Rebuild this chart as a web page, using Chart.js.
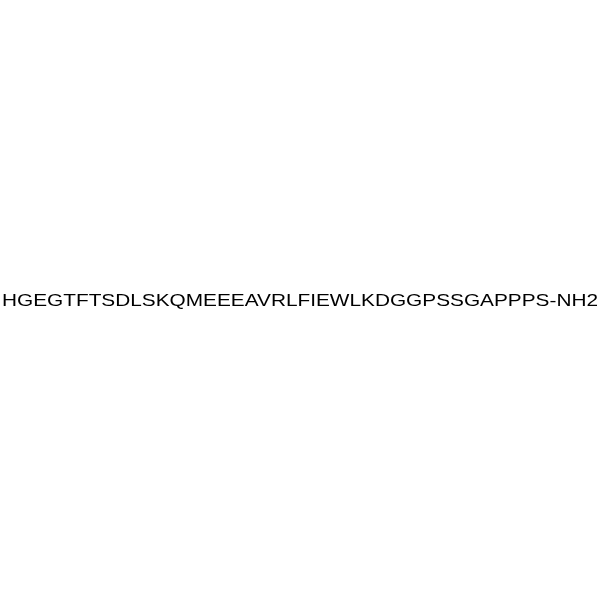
<!DOCTYPE html>
<html>
<head>
<meta charset="utf-8">
<script src="https://cdn.jsdelivr.net/npm/chart.js@4"></script>
<style>
html,body{margin:0;padding:0;background:#fff;}
#wrap{width:600px;height:600px;}
</style>
</head>
<body>
<div id="wrap"><canvas id="c" width="600" height="600"></canvas></div>
<script>
const sequenceLabels = ['HGEGTFTSDLSKQMEEEAVRLFIEWLKDGGPSSGAPPPS-NH2'];
const labelX = [0.5];
const labelY = [0.5];

const textPlugin = {
  id: 'seqText',
  afterDraw(chart) {
    const ctx = chart.ctx;
    const xs = chart.scales.x, ys = chart.scales.y;
    ctx.save();
    ctx.fillStyle = '#000';
    ctx.font = '17px "Liberation Sans", Arial, sans-serif';
    ctx.textAlign = 'center';
    ctx.textBaseline = 'alphabetic';
    sequenceLabels.forEach((t, i) => {
      const w = ctx.measureText(t).width;
      const sx = 596 / w;
      const px = xs.getPixelForValue(labelX[i]);
      const py = ys.getPixelForValue(labelY[i]) + 5.5;
      ctx.save();
      ctx.translate(px, py);
      ctx.scale(sx, 1);
      ctx.fillText(t, 0, 0);
      ctx.restore();
    });
    ctx.restore();
  }
};

new Chart(document.getElementById('c'), {
  type: 'scatter',
  data: { datasets: [{ data: [], pointRadius: 0 }] },
  options: {
    responsive: false,
    animation: false,
    layout: { padding: 0 },
    plugins: { legend: { display: false }, tooltip: { enabled: false } },
    scales: {
      x: { display: false, min: 0, max: 1 },
      y: { display: false, min: 0, max: 1 }
    }
  },
  plugins: [textPlugin]
});
</script>
</body>
</html>
